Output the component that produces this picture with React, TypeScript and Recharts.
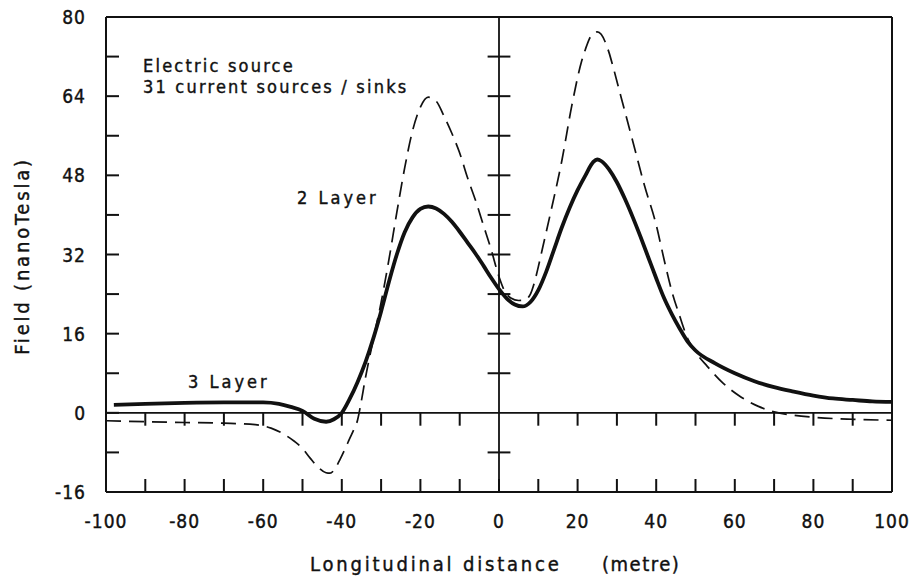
import React from 'react';
import { LineChart, Line, XAxis, YAxis, ReferenceLine } from 'recharts';

// distance (metre) / field (nanoTesla)
const THREE_LAYER_X = [-98, -90, -80, -70, -60, -56, -53, -50, -47, -44, -42, -40, -38, -36, -34, -32, -30, -28, -26, -24, -22, -20, -18, -16, -14, -12, -10, -8, -6, -4, -2, 0, 2, 4, 6, 8, 10, 12, 14, 16, 18, 20, 22, 24, 25, 26, 27, 28, 30, 32, 34, 36, 38, 40, 42, 44, 46, 48, 50, 55, 60, 65, 70, 75, 80, 85, 90, 95, 100];
const THREE_LAYER_Y = [1.6, 1.8, 2.0, 2.1, 2.1, 1.8, 1.2, 0.4, -1.2, -1.8, -1.3, 0, 2.8, 6.2, 10.2, 15, 20.5, 26.5, 32, 36.5, 39.5, 41.2, 41.7, 41.3, 40.2, 38.6, 36.6, 34.4, 32.2, 29.8, 27.3, 25, 23.1, 21.9, 21.5, 22.4, 24.8, 28.5, 33, 37.5, 41.5, 45, 48, 50.7, 51.2, 50.9, 50.2, 49.2, 46.6, 43.3, 39.6, 35.6, 31.4, 27.2, 23.2, 19.9, 17, 14.4, 12.6, 10, 8, 6.4, 5.2, 4.3, 3.5, 2.9, 2.6, 2.3, 2.2];

const TWO_LAYER_X = [-100, -90, -80, -70, -62, -58, -55, -52, -50, -48, -46, -44, -43, -42, -40.5, -39, -38, -37, -36, -35, -34, -33, -32, -30, -28, -26, -24, -22, -20, -18, -16, -14, -12, -10, -8, -6, -4, -2, 0, 1.5, 3, 5, 6.5, 8, 9, 10, 11, 13, 16, 18.5, 21, 22, 23, 24, 25, 26, 27, 28, 29, 31, 34, 37, 40, 42, 44, 46, 48, 50, 53, 57, 61, 66, 70, 75, 80, 90, 100];
const TWO_LAYER_Y = [-1.6, -1.8, -1.95, -2.1, -2.4, -3.1, -4.2, -5.8, -7.2, -9.2, -11, -12.1, -12.2, -11.6, -9.5, -7, -5.2, -3.5, -1.5, 2.5, 7, 11, 14.8, 22.3, 31, 40.5, 49.5, 57, 61.8, 63.8, 63, 60, 56.5, 52.5, 47.5, 43, 38, 33, 27.5, 24.5, 23.2, 22.7, 22.8, 24, 26.3, 29.5, 33, 40, 51, 62, 71, 73.5, 75.6, 76.7, 77, 76.5, 75, 72.8, 70, 64, 55, 46, 38, 31, 24.5, 19.5, 15, 12.3, 9.4, 6, 3.5, 1.3, 0.2, -0.5, -0.9, -1.3, -1.5];

const X_TICKS = [-100, -90, -80, -70, -60, -50, -40, -30, -20, -10, 0, 10, 20, 30, 40, 50, 60, 70, 80, 90, 100];
const Y_TICKS = [-16, -8, 0, 8, 16, 24, 32, 40, 48, 56, 64, 72, 80];

const threeLayer = THREE_LAYER_X.map((x, i) => ({ x, y: THREE_LAYER_Y[i] }));
const twoLayer = TWO_LAYER_X.map((x, i) => ({ x, y: TWO_LAYER_Y[i] }));

const FONT = "'DejaVu Sans Condensed', 'DejaVu Sans', sans-serif";
const INK = '#111';
const TICK = 13;

const tickText = { fontFamily: FONT, fontSize: 19, letterSpacing: 1, fill: INK, stroke: INK, strokeWidth: 0.4 };
const noteText = { fontFamily: FONT, fontSize: 18, letterSpacing: 2.2, fill: INK, stroke: INK, strokeWidth: 0.4 };
const titleText = { fontFamily: FONT, fontSize: 20, letterSpacing: 2.8, fill: INK, stroke: INK, strokeWidth: 0.4 };

const BottomTick = (props: any) => {
  const { x, y, payload } = props;
  return (
    <g>
      <line x1={x} y1={y} x2={x} y2={y - TICK} stroke={INK} strokeWidth={2} />
      {payload.value % 20 === 0 && (
        <text x={x} y={y + 36} textAnchor="middle" style={tickText}>{payload.value}</text>
      )}
    </g>
  );
};

const TopTick = (props: any) => {
  const { x, y } = props;
  return <line x1={x} y1={y} x2={x} y2={y + TICK + 1} stroke={INK} strokeWidth={2} />;
};

const LeftTick = (props: any) => {
  const { x, y, payload } = props;
  return (
    <g>
      <line x1={x} y1={y} x2={x + TICK} y2={y} stroke={INK} strokeWidth={2} />
      {payload.value % 16 === 0 && (
        <text x={x - 20} y={y + 7} textAnchor="end" style={tickText}>{payload.value}</text>
      )}
    </g>
  );
};

const RightTick = (props: any) => {
  const { x, y } = props;
  return <line x1={x} y1={y} x2={x - TICK} y2={y} stroke={INK} strokeWidth={2} />;
};

export default function App() {
  const innerX = X_TICKS.filter((t) => t !== -100 && t !== 100 && t !== 0);
  const innerY = Y_TICKS.filter((t) => t !== -16 && t !== 80 && t !== 0);
  return (
    <div style={{ position: 'absolute', left: 0, top: 0, width: 915, height: 579, background: '#fff' }}>
      <LineChart width={915} height={579} margin={{ top: 0, right: 0, bottom: 0, left: 0 }}>
        <XAxis
          dataKey="x" type="number" domain={[-100, 100]} ticks={X_TICKS} interval={0}
          height={87} tickSize={0} tickMargin={0} tick={<BottomTick />}
          axisLine={{ stroke: INK, strokeWidth: 2 }} allowDataOverflow
        />
        <XAxis
          xAxisId="top" orientation="top" type="number" domain={[-100, 100]} ticks={X_TICKS} interval={0}
          height={17} tickSize={0} tickMargin={0} tick={<TopTick />}
          axisLine={{ stroke: INK, strokeWidth: 2 }}
        />
        <YAxis
          type="number" domain={[-16, 80]} ticks={Y_TICKS} interval={0}
          width={106} tickSize={0} tickMargin={0} tick={<LeftTick />}
          axisLine={{ stroke: INK, strokeWidth: 2 }} allowDataOverflow
        />
        <YAxis
          yAxisId="right" orientation="right" type="number" domain={[-16, 80]} ticks={Y_TICKS} interval={0}
          width={23} tickSize={0} tickMargin={0} tick={<RightTick />}
          axisLine={{ stroke: INK, strokeWidth: 2 }}
        />

        <ReferenceLine y={0} stroke={INK} strokeWidth={1.8} />
        <ReferenceLine x={0} stroke={INK} strokeWidth={1.8} />
        {innerX.map((t) => (
          <ReferenceLine key={'zx' + t} segment={[{ x: t, y: 0 }, { x: t, y: -2.6 }]} stroke={INK} strokeWidth={2} />
        ))}
        {innerY.map((t) => (
          <ReferenceLine key={'zy' + t} segment={[{ x: -2.9, y: t }, { x: 2.9, y: t }]} stroke={INK} strokeWidth={2} />
        ))}

        <Line
          data={twoLayer} dataKey="y" type="monotone" stroke={INK} strokeWidth={1.7}
          strokeDasharray="15 8" dot={false} isAnimationActive={false}
        />
        <Line
          data={threeLayer} dataKey="y" type="monotone" stroke={INK} strokeWidth={3.8}
          dot={false} isAnimationActive={false}
        />
      </LineChart>

      <svg width={915} height={579} style={{ position: 'absolute', left: 0, top: 0, pointerEvents: 'none' }}>
        <g style={{ whiteSpace: 'pre' } as any}>
          <text x={143} y={72} style={noteText}>Electric source</text>
          <text x={143} y={93} style={noteText}>31 current sources / sinks</text>
          <text x={297} y={204} style={{ ...noteText, letterSpacing: 3 }}>2 Layer</text>
          <text x={188} y={388} style={{ ...noteText, letterSpacing: 3 }}>3 Layer</text>
          <text x={310} y={571} style={titleText}>Longitudinal distance</text>
          <text x={602} y={571} style={{ ...titleText, letterSpacing: 1.5 }}>(metre)</text>
          <text x={0} y={0} textAnchor="middle" transform="translate(29 256) rotate(-90)" style={titleText}>Field  (nanoTesla)</text>
        </g>
      </svg>
    </div>
  );
}
